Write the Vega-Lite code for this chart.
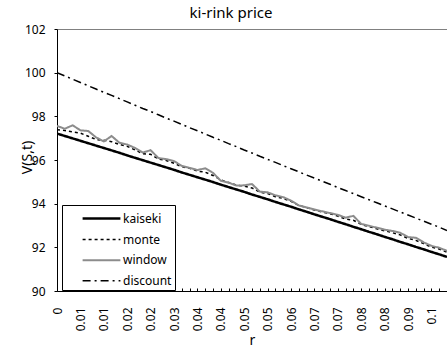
{
  "$schema": "https://vega.github.io/schema/vega-lite/v6.json",
  "width": 390,
  "height": 262,
  "autosize": {"type": "none"},
  "padding": {"left": 57, "top": 29, "right": 0, "bottom": 56},
  "background": "white",
  "config": {
    "view": {"stroke": null},
    "font": "Noto Sans",
    "axis": {"grid": false, "domainColor": "black", "tickColor": "black", "labelColor": "black", "titleColor": "black", "labelFont": "Noto Sans", "titleFont": "Noto Sans", "titleFontWeight": "normal"}
  },
  "title": {"text": "ki-rink price", "fontSize": 15, "fontWeight": "normal", "font": "Noto Sans", "anchor": "middle", "dx": -21, "baseline": "middle", "offset": -5, "color": "black"},
  "data": {
    "values": [
      {"r": 0, "kaiseki": 97.21, "monte": 97.38, "window": 97.56, "discount": 100},
      {"r": 0.002, "kaiseki": 97.10, "monte": 97.35, "window": 97.43, "discount": 99.85},
      {"r": 0.004, "kaiseki": 96.99, "monte": 97.29, "window": 97.59, "discount": 99.70},
      {"r": 0.006, "kaiseki": 96.88, "monte": 97.23, "window": 97.36, "discount": 99.55},
      {"r": 0.008, "kaiseki": 96.77, "monte": 97.09, "window": 97.33, "discount": 99.40},
      {"r": 0.01, "kaiseki": 96.66, "monte": 96.94, "window": 97.04, "discount": 99.25},
      {"r": 0.012, "kaiseki": 96.55, "monte": 96.90, "window": 96.85, "discount": 99.10},
      {"r": 0.014, "kaiseki": 96.44, "monte": 96.84, "window": 97.10, "discount": 98.96},
      {"r": 0.016, "kaiseki": 96.33, "monte": 96.71, "window": 96.79, "discount": 98.81},
      {"r": 0.018, "kaiseki": 96.21, "monte": 96.63, "window": 96.71, "discount": 98.66},
      {"r": 0.02, "kaiseki": 96.10, "monte": 96.46, "window": 96.55, "discount": 98.51},
      {"r": 0.022, "kaiseki": 95.99, "monte": 96.29, "window": 96.34, "discount": 98.36},
      {"r": 0.024, "kaiseki": 95.88, "monte": 96.26, "window": 96.45, "discount": 98.22},
      {"r": 0.026, "kaiseki": 95.77, "monte": 96.05, "window": 96.09, "discount": 98.07},
      {"r": 0.028, "kaiseki": 95.66, "monte": 95.98, "window": 96.04, "discount": 97.92},
      {"r": 0.03, "kaiseki": 95.55, "monte": 95.85, "window": 95.95, "discount": 97.78},
      {"r": 0.032, "kaiseki": 95.43, "monte": 95.69, "window": 95.73, "discount": 97.63},
      {"r": 0.034, "kaiseki": 95.32, "monte": 95.62, "window": 95.64, "discount": 97.48},
      {"r": 0.036, "kaiseki": 95.21, "monte": 95.49, "window": 95.54, "discount": 97.34},
      {"r": 0.038, "kaiseki": 95.10, "monte": 95.44, "window": 95.62, "discount": 97.19},
      {"r": 0.04, "kaiseki": 94.99, "monte": 95.29, "window": 95.41, "discount": 97.04},
      {"r": 0.042, "kaiseki": 94.87, "monte": 95.09, "window": 95.05, "discount": 96.90},
      {"r": 0.044, "kaiseki": 94.76, "monte": 94.97, "window": 94.96, "discount": 96.75},
      {"r": 0.046, "kaiseki": 94.65, "monte": 94.85, "window": 94.83, "discount": 96.61},
      {"r": 0.048, "kaiseki": 94.54, "monte": 94.80, "window": 94.84, "discount": 96.46},
      {"r": 0.05, "kaiseki": 94.42, "monte": 94.72, "window": 94.90, "discount": 96.32},
      {"r": 0.052, "kaiseki": 94.31, "monte": 94.53, "window": 94.55, "discount": 96.17},
      {"r": 0.054, "kaiseki": 94.20, "monte": 94.46, "window": 94.52, "discount": 96.03},
      {"r": 0.056, "kaiseki": 94.08, "monte": 94.32, "window": 94.38, "discount": 95.89},
      {"r": 0.058, "kaiseki": 93.97, "monte": 94.24, "window": 94.30, "discount": 95.74},
      {"r": 0.06, "kaiseki": 93.86, "monte": 94.11, "window": 94.14, "discount": 95.60},
      {"r": 0.062, "kaiseki": 93.74, "monte": 93.92, "window": 93.92, "discount": 95.46},
      {"r": 0.064, "kaiseki": 93.63, "monte": 93.82, "window": 93.83, "discount": 95.31},
      {"r": 0.066, "kaiseki": 93.51, "monte": 93.71, "window": 93.73, "discount": 95.17},
      {"r": 0.068, "kaiseki": 93.40, "monte": 93.62, "window": 93.65, "discount": 95.03},
      {"r": 0.07, "kaiseki": 93.29, "monte": 93.54, "window": 93.57, "discount": 94.89},
      {"r": 0.072, "kaiseki": 93.17, "monte": 93.43, "window": 93.49, "discount": 94.74},
      {"r": 0.074, "kaiseki": 93.06, "monte": 93.30, "window": 93.36, "discount": 94.60},
      {"r": 0.076, "kaiseki": 92.94, "monte": 93.24, "window": 93.44, "discount": 94.46},
      {"r": 0.078, "kaiseki": 92.83, "monte": 93.05, "window": 93.07, "discount": 94.32},
      {"r": 0.08, "kaiseki": 92.71, "monte": 92.95, "window": 92.99, "discount": 94.18},
      {"r": 0.082, "kaiseki": 92.60, "monte": 92.85, "window": 92.90, "discount": 94.04},
      {"r": 0.084, "kaiseki": 92.48, "monte": 92.76, "window": 92.81, "discount": 93.90},
      {"r": 0.086, "kaiseki": 92.37, "monte": 92.67, "window": 92.75, "discount": 93.76},
      {"r": 0.088, "kaiseki": 92.25, "monte": 92.57, "window": 92.67, "discount": 93.62},
      {"r": 0.09, "kaiseki": 92.14, "monte": 92.41, "window": 92.47, "discount": 93.48},
      {"r": 0.092, "kaiseki": 92.02, "monte": 92.32, "window": 92.44, "discount": 93.34},
      {"r": 0.094, "kaiseki": 91.91, "monte": 92.17, "window": 92.23, "discount": 93.20},
      {"r": 0.096, "kaiseki": 91.79, "monte": 92.01, "window": 92.07, "discount": 93.06},
      {"r": 0.098, "kaiseki": 91.68, "monte": 91.92, "window": 91.98, "discount": 92.92},
      {"r": 0.1, "kaiseki": 91.56, "monte": 91.78, "window": 91.84, "discount": 92.77}
    ]
  },
  "transform": [
    {"fold": ["kaiseki", "monte", "window", "discount"], "as": ["series", "value"]}
  ],
  "layer": [
    {
      "mark": {"type": "line", "clip": true},
      "encoding": {
        "x": {
          "field": "r", "type": "quantitative",
          "scale": {"domain": [0, 0.1], "nice": false, "zero": false},
          "axis": {
            "orient": "bottom",
            "values": [0,0.002,0.004,0.006,0.008,0.01,0.012,0.014,0.016,0.018,0.02,0.022,0.024,0.026,0.028,0.03,0.032,0.034,0.036,0.038,0.04,0.042,0.044,0.046,0.048,0.05,0.052,0.054,0.056,0.058,0.06,0.062,0.064,0.066,0.068,0.07,0.072,0.074,0.076,0.078,0.08,0.082,0.084,0.086,0.088,0.09,0.092,0.094,0.096,0.098,0.1],
            "labelExpr": "round(datum.value*500) % 3 == 0 ? toString(round(datum.value*100)/100) : ''",
            "labelAngle": 270,
            "labelAlign": "right",
            "labelBaseline": "middle",
            "labelOverlap": false,
            "labelFlush": false,
            "labelBound": false,
            "labelFontSize": 12,
            "labelPadding": 19,
            "tickSize": -3,
            "title": "r",
            "titleFontSize": 14,
            "titleY": 49,
            "titleBaseline": "middle"
          }
        },
        "y": {
          "field": "value", "type": "quantitative",
          "scale": {"domain": [90, 102], "nice": false, "zero": false},
          "axis": {
            "values": [90, 92, 94, 96, 98, 100, 102],
            "labelFontSize": 12,
            "tickSize": 3,
            "labelPadding": 9,
            "title": "V(S,t)",
            "titleFontSize": 14,
            "titleX": -30,
            "titleY": 128,
            "titleAlign": "center",
            "titleBaseline": "middle",
            "titleAngle": 270
          }
        },
        "color": {
          "field": "series", "type": "nominal",
          "scale": {"domain": ["kaiseki", "monte", "window", "discount"], "range": ["#000000", "#000000", "#8c8c8c", "#000000"]},
          "legend": {
            "title": null,
            "orient": "none",
            "legendX": 5,
            "legendY": 176,
            "direction": "vertical",
            "strokeColor": "black",
            "fillColor": "white",
            "padding": 3,
            "symbolType": "M-2.1,0H2.1",
            "symbolSize": 324,
            "symbolOffset": 26,
            "rowPadding": 4.6,
            "labelFontSize": 12,
            "labelOffset": 11,
            "labelColor": "black",
            "labelExpr": "datum.label + '            '"
          }
        },
        "strokeDash": {
          "field": "series", "type": "nominal",
          "scale": {"domain": ["kaiseki", "monte", "window", "discount"], "range": [[1, 0], [3, 3], [1, 0], [8, 4, 2, 4]]},
          "legend": null
        },
        "strokeWidth": {
          "field": "series", "type": "nominal",
          "scale": {"type": "ordinal", "domain": ["kaiseki", "monte", "window", "discount"], "range": [2.5, 1.5, 2, 1.5]},
          "legend": null
        }
      }
    },
    {
      "mark": {"type": "point", "opacity": 0},
      "encoding": {
        "x": {
          "field": "r", "type": "quantitative",
          "axis": {"orient": "top", "ticks": false, "labels": false, "domainColor": "#808080", "title": null}
        },
        "y": {"field": "value", "type": "quantitative"}
      }
    }
  ]
}
